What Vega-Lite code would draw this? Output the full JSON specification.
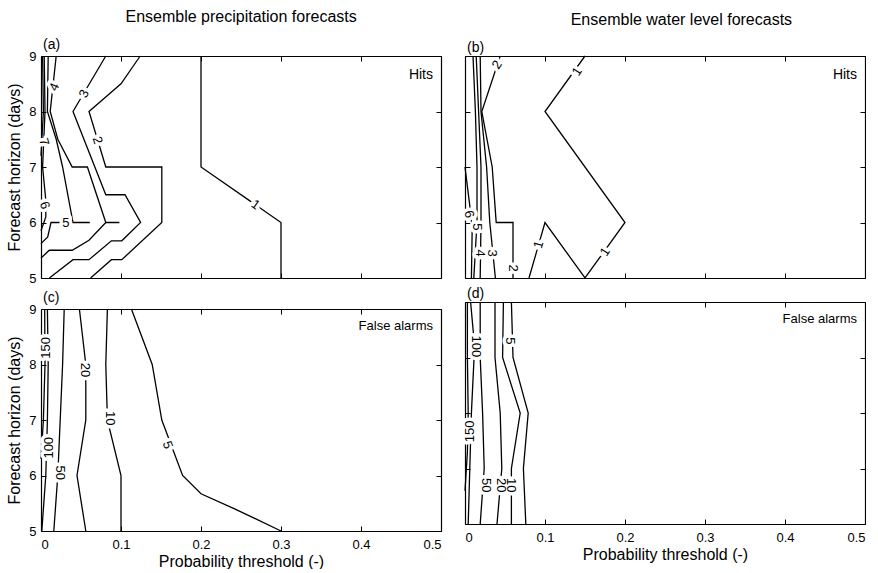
{
  "$schema": "https://vega.github.io/schema/vega-lite/v6.json",
  "background": "white",
  "padding": {"left": 6, "top": 9, "right": 0, "bottom": 0},
  "config": {
    "view": {"stroke": null},
    "font": "Liberation Sans",
    "axis": {"domainColor": "black", "domainWidth": 1.2, "tickColor": "black", "tickWidth": 1, "tickSize": -5, "labelColor": "black", "titleColor": "black", "labelFont": "Liberation Sans", "titleFont": "Liberation Sans", "labelFontSize": 13, "titleFontSize": 16, "titleFontWeight": "normal", "grid": false, "zindex": 1, "labelPadding": 10},
    "title": {"font": "Liberation Sans", "fontWeight": "normal", "fontSize": 14, "color": "black"}
  },
  "datasets": {
    "lines": [
      {"p":"a","k":"a1","i":0,"x":0.2,"y":9},{"p":"a","k":"a1","i":1,"x":0.2,"y":7},{"p":"a","k":"a1","i":2,"x":0.3,"y":6},{"p":"a","k":"a1","i":3,"x":0.3,"y":5},
      {"p":"a","k":"a2","i":0,"x":0.124,"y":9},{"p":"a","k":"a2","i":1,"x":0.1,"y":8.5},{"p":"a","k":"a2","i":2,"x":0.06,"y":8},{"p":"a","k":"a2","i":3,"x":0.081,"y":7},{"p":"a","k":"a2","i":4,"x":0.151,"y":7},{"p":"a","k":"a2","i":5,"x":0.151,"y":6},{"p":"a","k":"a2","i":6,"x":0.101,"y":5.33},{"p":"a","k":"a2","i":7,"x":0.088,"y":5.33},{"p":"a","k":"a2","i":8,"x":0.062,"y":5},
      {"p":"a","k":"a3","i":0,"x":0.081,"y":9},{"p":"a","k":"a3","i":1,"x":0.04,"y":8},{"p":"a","k":"a3","i":2,"x":0.081,"y":6.5},{"p":"a","k":"a3","i":3,"x":0.105,"y":6.5},{"p":"a","k":"a3","i":4,"x":0.1245,"y":6},{"p":"a","k":"a3","i":5,"x":0.101,"y":5.67},{"p":"a","k":"a3","i":6,"x":0.088,"y":5.67},{"p":"a","k":"a3","i":7,"x":0.06,"y":5.33},{"p":"a","k":"a3","i":8,"x":0.04,"y":5.33},{"p":"a","k":"a3","i":9,"x":0.0105,"y":5},
      {"p":"a","k":"a4","i":0,"x":0.019,"y":9},{"p":"a","k":"a4","i":1,"x":0.0115,"y":8},{"p":"a","k":"a4","i":2,"x":0.021,"y":7.5},{"p":"a","k":"a4","i":3,"x":0.039,"y":7},{"p":"a","k":"a4","i":4,"x":0.058,"y":7},{"p":"a","k":"a4","i":5,"x":0.081,"y":6},{"p":"a","k":"a4","i":6,"x":0.098,"y":6},
      {"p":"a","k":"a4b","i":0,"x":0.081,"y":6},{"p":"a","k":"a4b","i":1,"x":0.06,"y":5.68},{"p":"a","k":"a4b","i":2,"x":0.039,"y":5.5},{"p":"a","k":"a4b","i":3,"x":0.0104,"y":5.5},{"p":"a","k":"a4b","i":4,"x":0,"y":5.36},
      {"p":"a","k":"a5","i":0,"x":0.009,"y":9},{"p":"a","k":"a5","i":1,"x":0.008,"y":8},{"p":"a","k":"a5","i":2,"x":0.019,"y":7.5},{"p":"a","k":"a5","i":3,"x":0.027,"y":7},{"p":"a","k":"a5","i":4,"x":0.04,"y":6},{"p":"a","k":"a5","i":5,"x":0.061,"y":6},
      {"p":"a","k":"a5b","i":0,"x":0,"y":5.62},{"p":"a","k":"a5b","i":1,"x":0.0084,"y":5.74},{"p":"a","k":"a5b","i":2,"x":0.0125,"y":6},{"p":"a","k":"a5b","i":3,"x":0.04,"y":6},
      {"p":"a","k":"a6","i":0,"x":0.004,"y":9},{"p":"a","k":"a6","i":1,"x":0.005,"y":8},{"p":"a","k":"a6","i":2,"x":0.002,"y":7},{"p":"a","k":"a6","i":3,"x":0.006,"y":6.4},{"p":"a","k":"a6","i":4,"x":0.006,"y":6.1},{"p":"a","k":"a6","i":5,"x":0,"y":5.85},
      {"p":"a","k":"a7","i":0,"x":0.002,"y":9},{"p":"a","k":"a7","i":1,"x":0.003,"y":8},{"p":"a","k":"a7","i":2,"x":0,"y":7.2},

      {"p":"b","k":"b1","i":0,"x":0.15,"y":9},{"p":"b","k":"b1","i":1,"x":0.1,"y":8},{"p":"b","k":"b1","i":2,"x":0.2,"y":6},{"p":"b","k":"b1","i":3,"x":0.15,"y":5},{"p":"b","k":"b1","i":4,"x":0.1,"y":6},{"p":"b","k":"b1","i":5,"x":0.08,"y":5},
      {"p":"b","k":"b2","i":0,"x":0.044,"y":9},{"p":"b","k":"b2","i":1,"x":0.021,"y":8},{"p":"b","k":"b2","i":2,"x":0.034,"y":7},{"p":"b","k":"b2","i":3,"x":0.039,"y":6},{"p":"b","k":"b2","i":4,"x":0.06,"y":6},{"p":"b","k":"b2","i":5,"x":0.06,"y":5},
      {"p":"b","k":"b3","i":0,"x":0.019,"y":9},{"p":"b","k":"b3","i":1,"x":0.02,"y":8},{"p":"b","k":"b3","i":2,"x":0.027,"y":7},{"p":"b","k":"b3","i":3,"x":0.031,"y":6},{"p":"b","k":"b3","i":4,"x":0.038,"y":5},
      {"p":"b","k":"b4","i":0,"x":0.014,"y":9},{"p":"b","k":"b4","i":1,"x":0.017,"y":8},{"p":"b","k":"b4","i":2,"x":0.02,"y":7},{"p":"b","k":"b4","i":3,"x":0.02,"y":6},{"p":"b","k":"b4","i":4,"x":0.019,"y":5},
      {"p":"b","k":"b5","i":0,"x":0.01,"y":9},{"p":"b","k":"b5","i":1,"x":0.013,"y":8},{"p":"b","k":"b5","i":2,"x":0.015,"y":7},{"p":"b","k":"b5","i":3,"x":0.015,"y":6},{"p":"b","k":"b5","i":4,"x":0.011,"y":5},
      {"p":"b","k":"b6","i":0,"x":0,"y":7},{"p":"b","k":"b6","i":1,"x":0.006,"y":6.3},{"p":"b","k":"b6","i":2,"x":0.009,"y":5.9},{"p":"b","k":"b6","i":3,"x":0.008,"y":5},

      {"p":"c","k":"c5","i":0,"x":0.113,"y":9},{"p":"c","k":"c5","i":1,"x":0.139,"y":8},{"p":"c","k":"c5","i":2,"x":0.151,"y":7},{"p":"c","k":"c5","i":3,"x":0.177,"y":6},{"p":"c","k":"c5","i":4,"x":0.2,"y":5.67},{"p":"c","k":"c5","i":5,"x":0.242,"y":5.4},{"p":"c","k":"c5","i":6,"x":0.3,"y":5},
      {"p":"c","k":"c10","i":0,"x":0.083,"y":9},{"p":"c","k":"c10","i":1,"x":0.081,"y":8},{"p":"c","k":"c10","i":2,"x":0.083,"y":7},{"p":"c","k":"c10","i":3,"x":0.1,"y":6},{"p":"c","k":"c10","i":4,"x":0.1,"y":5},
      {"p":"c","k":"c20","i":0,"x":0.048,"y":9},{"p":"c","k":"c20","i":1,"x":0.056,"y":8},{"p":"c","k":"c20","i":2,"x":0.056,"y":7},{"p":"c","k":"c20","i":3,"x":0.045,"y":6},{"p":"c","k":"c20","i":4,"x":0.056,"y":5},
      {"p":"c","k":"c50","i":0,"x":0.029,"y":9},{"p":"c","k":"c50","i":1,"x":0.027,"y":8},{"p":"c","k":"c50","i":2,"x":0.024,"y":7},{"p":"c","k":"c50","i":3,"x":0.021,"y":6},{"p":"c","k":"c50","i":4,"x":0.016,"y":5},
      {"p":"c","k":"c100","i":0,"x":0.008,"y":9},{"p":"c","k":"c100","i":1,"x":0.009,"y":8},{"p":"c","k":"c100","i":2,"x":0.008,"y":7},{"p":"c","k":"c100","i":3,"x":0.006,"y":6},{"p":"c","k":"c100","i":4,"x":0.001,"y":5},
      {"p":"c","k":"c150","i":0,"x":0.0046,"y":9},{"p":"c","k":"c150","i":1,"x":0.005,"y":8},{"p":"c","k":"c150","i":2,"x":0.003,"y":7},{"p":"c","k":"c150","i":3,"x":0,"y":6.3},

      {"p":"d","k":"d5","i":0,"x":0.058,"y":9},{"p":"d","k":"d5","i":1,"x":0.06,"y":8},{"p":"d","k":"d5","i":2,"x":0.079,"y":7},{"p":"d","k":"d5","i":3,"x":0.073,"y":6},{"p":"d","k":"d5","i":4,"x":0.076,"y":5},
      {"p":"d","k":"d10","i":0,"x":0.048,"y":9},{"p":"d","k":"d10","i":1,"x":0.047,"y":8},{"p":"d","k":"d10","i":2,"x":0.069,"y":7},{"p":"d","k":"d10","i":3,"x":0.058,"y":6},{"p":"d","k":"d10","i":4,"x":0.058,"y":5},
      {"p":"d","k":"d20","i":0,"x":0.0375,"y":9},{"p":"d","k":"d20","i":1,"x":0.0375,"y":8},{"p":"d","k":"d20","i":2,"x":0.044,"y":7},{"p":"d","k":"d20","i":3,"x":0.046,"y":6},{"p":"d","k":"d20","i":4,"x":0.04,"y":5},
      {"p":"d","k":"d50","i":0,"x":0.019,"y":9},{"p":"d","k":"d50","i":1,"x":0.019,"y":8},{"p":"d","k":"d50","i":2,"x":0.022,"y":7},{"p":"d","k":"d50","i":3,"x":0.024,"y":6},{"p":"d","k":"d50","i":4,"x":0.019,"y":5},
      {"p":"d","k":"d100","i":0,"x":0.007,"y":9},{"p":"d","k":"d100","i":1,"x":0.012,"y":8.2},{"p":"d","k":"d100","i":2,"x":0.008,"y":7},{"p":"d","k":"d100","i":3,"x":0.006,"y":6},{"p":"d","k":"d100","i":4,"x":0.004,"y":5},
      {"p":"d","k":"d150","i":0,"x":0.003,"y":9},{"p":"d","k":"d150","i":1,"x":0.003,"y":8},{"p":"d","k":"d150","i":2,"x":0.004,"y":7},{"p":"d","k":"d150","i":3,"x":0.003,"y":6.3},{"p":"d","k":"d150","i":4,"x":0,"y":5.6}
    ],
    "labels": [
      {"p":"a","id":"a1","v":"1","x":0.268,"y":6.32},
      {"p":"a","id":"a2","v":"2","x":0.0705,"y":7.48},
      {"p":"a","id":"a3","v":"3","x":0.054,"y":8.32},
      {"p":"a","id":"a4","v":"4","x":0.0166,"y":8.44},
      {"p":"a","id":"a5","v":"5","x":0.031,"y":6},
      {"p":"a","id":"a6","v":"6","x":0.0045,"y":6.31},
      {"p":"a","id":"a7","v":"7","x":0.0035,"y":7.45},
      {"p":"b","id":"b1a","v":"1","x":0.14,"y":8.72},
      {"p":"b","id":"b1b","v":"1","x":0.175,"y":5.47},
      {"p":"b","id":"b1c","v":"1","x":0.092,"y":5.6},
      {"p":"b","id":"b2t","v":"2","x":0.04,"y":8.84},
      {"p":"b","id":"b2b","v":"2","x":0.06,"y":5.18},
      {"p":"b","id":"b3","v":"3","x":0.034,"y":5.45},
      {"p":"b","id":"b4","v":"4","x":0.019,"y":5.45},
      {"p":"b","id":"b5","v":"5","x":0.015,"y":5.92},
      {"p":"b","id":"b6","v":"6","x":0.005,"y":6.15},
      {"p":"c","id":"c5","v":"5","x":0.158,"y":6.55},
      {"p":"c","id":"c10","v":"10","x":0.086,"y":7.03},
      {"p":"c","id":"c20","v":"20","x":0.0546,"y":7.9},
      {"p":"c","id":"c50","v":"50","x":0.024,"y":6.05},
      {"p":"c","id":"c100","v":"100","x":0.0097,"y":6.5},
      {"p":"c","id":"c150","v":"150","x":0.006,"y":8.3},
      {"p":"d","id":"d5","v":"5","x":0.056,"y":8.3},
      {"p":"d","id":"d10","v":"10","x":0.057,"y":5.7},
      {"p":"d","id":"d20","v":"20","x":0.045,"y":5.7},
      {"p":"d","id":"d50","v":"50","x":0.026,"y":5.7},
      {"p":"d","id":"d100","v":"100","x":0.014,"y":8.2},
      {"p":"d","id":"d150","v":"150","x":0.006,"y":6.67}
    ]
  },
  "spacing": 19,
  "hconcat": [
    {
      "title": {"text": "Ensemble precipitation forecasts", "anchor": "middle", "offset": 13, "fontSize": 16, "dx": 17},
      "spacing": 6,
      "vconcat": [
        {
          "width": 400, "height": 222,
          "title": {"text": "(a)", "anchor": "start", "frame": "group", "offset": -2, "dx": 2, "fontSize": 14},
          "layer": [
            {"data": {"name": "lines"}, "transform": [{"filter": "datum.p == 'a'"}],
             "mark": {"type": "line", "color": "black", "strokeWidth": 1.3},
             "encoding": {
               "x": {"field": "x", "type": "quantitative", "scale": {"domain": [0, 0.5], "nice": false, "zero": false}, "axis": {"orient": "bottom", "values": [0, 0.1, 0.2, 0.3, 0.4, 0.5], "labels": false, "title": null}},
               "y": {"field": "y", "type": "quantitative", "scale": {"domain": [5, 9], "nice": false, "zero": false}, "axis": {"orient": "left", "values": [5, 6, 7, 8, 9], "format": "d", "title": "Forecast horizon (days)", "titlePadding": 6}},
               "detail": {"field": "k"}, "order": {"field": "i"}}},
            {"data": {"name": "labels"}, "transform": [{"filter": "datum.p == 'a'"}],
             "mark": {"type": "text", "fontSize": 13, "fill": "white", "stroke": "white", "strokeWidth": 7, "strokeJoin": "round"},
             "encoding": {"x": {"field": "x", "type": "quantitative", "axis": null}, "y": {"field": "y", "type": "quantitative", "axis": null}, "text": {"field": "v"},
               "angle": {"condition": [{"test": "indexof(['a5'], datum.id) >= 0", "value": 0}, {"test": "indexof(['a1'], datum.id) >= 0", "value": 35}, {"test": "indexof(['a2','a6','a7'], datum.id) >= 0", "value": 73}], "value": -65}}},
            {"data": {"name": "labels"}, "transform": [{"filter": "datum.p == 'a'"}],
             "mark": {"type": "text", "fontSize": 13, "fill": "black"},
             "encoding": {"x": {"field": "x", "type": "quantitative", "axis": null}, "y": {"field": "y", "type": "quantitative", "axis": null}, "text": {"field": "v"},
               "angle": {"condition": [{"test": "indexof(['a5'], datum.id) >= 0", "value": 0}, {"test": "indexof(['a1'], datum.id) >= 0", "value": 35}, {"test": "indexof(['a2','a6','a7'], datum.id) >= 0", "value": 73}], "value": -65}}},
            {"data": {"values": [{}]}, "mark": {"type": "text", "text": "Hits", "align": "right", "baseline": "top", "dx": -8, "dy": 12, "fontSize": 14},
             "encoding": {"x": {"datum": 0.5, "type": "quantitative", "axis": null}, "y": {"datum": 9, "type": "quantitative", "axis": null}}},
            {"data": {"values": [{}]}, "mark": {"type": "point", "opacity": 0},
             "encoding": {"x": {"datum": 0, "type": "quantitative", "axis": {"orient": "top", "values": [0, 0.1, 0.2, 0.3, 0.4, 0.5], "labels": false, "title": null}},
                          "y": {"datum": 5, "type": "quantitative", "axis": {"orient": "right", "values": [5, 6, 7, 8, 9], "labels": false, "title": null}}}}
          ],
          "resolve": {"axis": {"x": "independent", "y": "independent"}}
        },
        {
          "width": 400, "height": 222,
          "title": {"text": "(c)", "anchor": "start", "frame": "group", "offset": -2, "dx": 2, "fontSize": 14},
          "layer": [
            {"data": {"name": "lines"}, "transform": [{"filter": "datum.p == 'c'"}],
             "mark": {"type": "line", "color": "black", "strokeWidth": 1.3},
             "encoding": {
               "x": {"field": "x", "type": "quantitative", "scale": {"domain": [0, 0.5], "nice": false, "zero": false}, "axis": {"orient": "bottom", "values": [0, 0.1, 0.2, 0.3, 0.4, 0.5], "format": "~g", "labelPadding": 12, "title": "Probability threshold (-)", "titlePadding": 2}},
               "y": {"field": "y", "type": "quantitative", "scale": {"domain": [5, 9], "nice": false, "zero": false}, "axis": {"orient": "left", "values": [5, 6, 7, 8, 9], "format": "d", "title": "Forecast horizon (days)", "titlePadding": 6}},
               "detail": {"field": "k"}, "order": {"field": "i"}}},
            {"data": {"name": "labels"}, "transform": [{"filter": "datum.p == 'c'"}],
             "mark": {"type": "text", "fontSize": 13, "fill": "white", "stroke": "white", "strokeWidth": 7, "strokeJoin": "round"},
             "encoding": {"x": {"field": "x", "type": "quantitative", "axis": null}, "y": {"field": "y", "type": "quantitative", "axis": null}, "text": {"field": "v"},
               "angle": {"condition": [{"test": "indexof(['c150','c100'], datum.id) >= 0", "value": -90}, {"test": "indexof(['c5'], datum.id) >= 0", "value": 70}], "value": 90}}},
            {"data": {"name": "labels"}, "transform": [{"filter": "datum.p == 'c'"}],
             "mark": {"type": "text", "fontSize": 13, "fill": "black"},
             "encoding": {"x": {"field": "x", "type": "quantitative", "axis": null}, "y": {"field": "y", "type": "quantitative", "axis": null}, "text": {"field": "v"},
               "angle": {"condition": [{"test": "indexof(['c150','c100'], datum.id) >= 0", "value": -90}, {"test": "indexof(['c5'], datum.id) >= 0", "value": 70}], "value": 90}}},
            {"data": {"values": [{}]}, "mark": {"type": "text", "text": "False alarms", "align": "right", "baseline": "top", "dx": -8, "dy": 11, "fontSize": 13},
             "encoding": {"x": {"datum": 0.5, "type": "quantitative", "axis": null}, "y": {"datum": 9, "type": "quantitative", "axis": null}}},
            {"data": {"values": [{}]}, "mark": {"type": "point", "opacity": 0},
             "encoding": {"x": {"datum": 0, "type": "quantitative", "axis": {"orient": "top", "values": [0, 0.1, 0.2, 0.3, 0.4, 0.5], "labels": false, "title": null}},
                          "y": {"datum": 5, "type": "quantitative", "axis": {"orient": "right", "values": [5, 6, 7, 8, 9], "labels": false, "title": null}}}}
          ],
          "resolve": {"axis": {"x": "independent", "y": "independent"}}
        }
      ]
    },
    {
      "title": {"text": "Ensemble water level forecasts", "anchor": "middle", "offset": 13, "fontSize": 16, "dx": 18},
      "spacing": 6,
      "vconcat": [
        {
          "width": 400, "height": 222,
          "title": {"text": "(b)", "anchor": "start", "frame": "group", "offset": -2, "dx": 2, "fontSize": 14},
          "layer": [
            {"data": {"name": "lines"}, "transform": [{"filter": "datum.p == 'b'"}],
             "mark": {"type": "line", "color": "black", "strokeWidth": 1.3},
             "encoding": {
               "x": {"field": "x", "type": "quantitative", "scale": {"domain": [0, 0.5], "nice": false, "zero": false}, "axis": {"orient": "bottom", "values": [0, 0.1, 0.2, 0.3, 0.4, 0.5], "labels": false, "title": null}},
               "y": {"field": "y", "type": "quantitative", "scale": {"domain": [5, 9], "nice": false, "zero": false}, "axis": {"orient": "left", "values": [5, 6, 7, 8, 9], "labels": false, "title": null}},
               "detail": {"field": "k"}, "order": {"field": "i"}}},
            {"data": {"name": "labels"}, "transform": [{"filter": "datum.p == 'b'"}],
             "mark": {"type": "text", "fontSize": 13, "fill": "white", "stroke": "white", "strokeWidth": 7, "strokeJoin": "round"},
             "encoding": {"x": {"field": "x", "type": "quantitative", "axis": null}, "y": {"field": "y", "type": "quantitative", "axis": null}, "text": {"field": "v"},
               "angle": {"condition": [{"test": "indexof(['b3','b4','b5','b2b'], datum.id) >= 0", "value": 90}, {"test": "indexof(['b6'], datum.id) >= 0", "value": 75}, {"test": "indexof(['b1c'], datum.id) >= 0", "value": -74}], "value": -57}}},
            {"data": {"name": "labels"}, "transform": [{"filter": "datum.p == 'b'"}],
             "mark": {"type": "text", "fontSize": 13, "fill": "black"},
             "encoding": {"x": {"field": "x", "type": "quantitative", "axis": null}, "y": {"field": "y", "type": "quantitative", "axis": null}, "text": {"field": "v"},
               "angle": {"condition": [{"test": "indexof(['b3','b4','b5','b2b'], datum.id) >= 0", "value": 90}, {"test": "indexof(['b6'], datum.id) >= 0", "value": 75}, {"test": "indexof(['b1c'], datum.id) >= 0", "value": -74}], "value": -57}}},
            {"data": {"values": [{}]}, "mark": {"type": "text", "text": "Hits", "align": "right", "baseline": "top", "dx": -8, "dy": 12, "fontSize": 14},
             "encoding": {"x": {"datum": 0.5, "type": "quantitative", "axis": null}, "y": {"datum": 9, "type": "quantitative", "axis": null}}},
            {"data": {"values": [{}]}, "mark": {"type": "point", "opacity": 0},
             "encoding": {"x": {"datum": 0, "type": "quantitative", "axis": {"orient": "top", "values": [0, 0.1, 0.2, 0.3, 0.4, 0.5], "labels": false, "title": null}},
                          "y": {"datum": 5, "type": "quantitative", "axis": {"orient": "right", "values": [5, 6, 7, 8, 9], "labels": false, "title": null}}}}
          ],
          "resolve": {"axis": {"x": "independent", "y": "independent"}}
        },
        {
          "width": 400, "height": 222,
          "title": {"text": "(d)", "anchor": "start", "frame": "group", "offset": -2, "dx": 2, "fontSize": 14},
          "layer": [
            {"data": {"name": "lines"}, "transform": [{"filter": "datum.p == 'd'"}],
             "mark": {"type": "line", "color": "black", "strokeWidth": 1.3},
             "encoding": {
               "x": {"field": "x", "type": "quantitative", "scale": {"domain": [0, 0.5], "nice": false, "zero": false}, "axis": {"orient": "bottom", "values": [0, 0.1, 0.2, 0.3, 0.4, 0.5], "format": "~g", "labelPadding": 12, "title": "Probability threshold (-)", "titlePadding": 2}},
               "y": {"field": "y", "type": "quantitative", "scale": {"domain": [5, 9], "nice": false, "zero": false}, "axis": {"orient": "left", "values": [5, 6, 7, 8, 9], "labels": false, "title": null}},
               "detail": {"field": "k"}, "order": {"field": "i"}}},
            {"data": {"name": "labels"}, "transform": [{"filter": "datum.p == 'd'"}],
             "mark": {"type": "text", "fontSize": 13, "fill": "white", "stroke": "white", "strokeWidth": 7, "strokeJoin": "round"},
             "encoding": {"x": {"field": "x", "type": "quantitative", "axis": null}, "y": {"field": "y", "type": "quantitative", "axis": null}, "text": {"field": "v"},
               "angle": {"condition": [{"test": "indexof(['d150'], datum.id) >= 0", "value": -90}], "value": 90}}},
            {"data": {"name": "labels"}, "transform": [{"filter": "datum.p == 'd'"}],
             "mark": {"type": "text", "fontSize": 13, "fill": "black"},
             "encoding": {"x": {"field": "x", "type": "quantitative", "axis": null}, "y": {"field": "y", "type": "quantitative", "axis": null}, "text": {"field": "v"},
               "angle": {"condition": [{"test": "indexof(['d150'], datum.id) >= 0", "value": -90}], "value": 90}}},
            {"data": {"values": [{}]}, "mark": {"type": "text", "text": "False alarms", "align": "right", "baseline": "top", "dx": -8, "dy": 11, "fontSize": 13},
             "encoding": {"x": {"datum": 0.5, "type": "quantitative", "axis": null}, "y": {"datum": 9, "type": "quantitative", "axis": null}}},
            {"data": {"values": [{}]}, "mark": {"type": "point", "opacity": 0},
             "encoding": {"x": {"datum": 0, "type": "quantitative", "axis": {"orient": "top", "values": [0, 0.1, 0.2, 0.3, 0.4, 0.5], "labels": false, "title": null}},
                          "y": {"datum": 5, "type": "quantitative", "axis": {"orient": "right", "values": [5, 6, 7, 8, 9], "labels": false, "title": null}}}}
          ],
          "resolve": {"axis": {"x": "independent", "y": "independent"}}
        }
      ]
    }
  ]
}
